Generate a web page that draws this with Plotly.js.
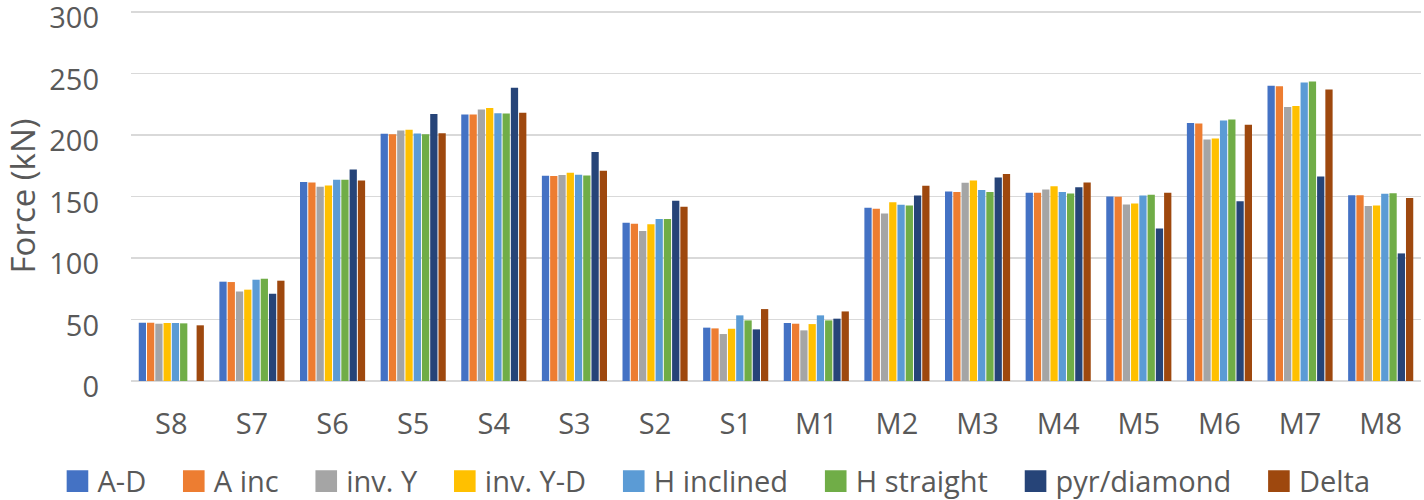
<!DOCTYPE html>
<html><head><meta charset="utf-8">
<script src="https://cdn.plot.ly/plotly-3.0.1.min.js"></script>
<style>html,body{margin:0;padding:0;background:#fff;}#chart{width:1424px;height:500px;}</style>
</head><body><div id="chart"></div>
<script>
const categories = ["S8","S7","S6","S5","S4","S3","S2","S1","M1","M2","M3","M4","M5","M6","M7","M8"];
const seriesNames = ["A-D","A inc","inv. Y","inv. Y-D","H inclined","H straight","pyr/diamond","Delta"];
const colors = ["#4472C4","#ED7D31","#A5A5A5","#FFC000","#5B9BD5","#70AD47","#264478","#9E480E"];
const aD        = [47.4,80.8,161.8,201.1,216.8,166.9,128.7,43.4,47.2,140.9,154.2,153.1,150.1,209.8,240.1,151.2];
const aInc      = [47.4,80.5,161.5,200.8,216.8,166.7,127.9,42.8,46.6,140.1,153.7,153.1,149.9,209.5,239.8,151.2];
const invY      = [46.6,72.9,158.0,203.8,220.9,167.5,122.0,38.2,41.2,136.3,161.2,155.8,143.6,196.5,223.0,142.3];
const invYD     = [47.2,74.3,159.1,204.3,222.0,169.4,127.6,42.5,46.3,145.5,163.1,158.5,144.4,197.3,223.8,142.8];
const hIncl     = [47.2,82.4,163.7,201.4,217.9,167.8,131.7,53.4,53.4,143.4,155.3,153.7,150.9,211.9,242.8,152.3];
const hStraight = [46.9,83.2,163.7,200.8,217.6,167.2,131.7,49.3,49.3,142.8,153.7,152.6,151.5,212.7,243.6,152.8];
const pyrDiam   = [null,71.0,172.1,217.3,238.5,186.2,146.6,42.0,50.7,151.0,165.6,157.7,124.1,146.3,166.4,103.8];
const delta     = [45.3,81.6,163.1,201.6,218.2,171.0,141.7,58.5,56.6,158.8,168.3,161.5,153.1,208.4,237.1,148.8];
const seriesValues = [aD,aInc,invY,invYD,hIncl,hStraight,pyrDiam,delta];

const FONT = "'Open Sans', 'DejaVu Sans', sans-serif";
const PAD = "\u00A0\u00A0\u00A0";
const traces = seriesValues.map((v,i)=>({
  type:'bar', name:seriesNames[i] + (i < seriesNames.length-1 ? PAD : ''), x:categories, y:v,
  marker:{color:colors[i], line:{width:0}}, hoverinfo:'skip'
}));
const layout = {
  width:1424, height:500,
  margin:{l:131, r:3, t:11, b:119, autoexpand:false},
  paper_bgcolor:'#fff', plot_bgcolor:'#fff',
  barmode:'group', bargap:0.18, bargroupgap:0.12,
  font:{family:FONT, color:'#595959', size:29},
  xaxis:{type:'category', showgrid:false, showline:false, zeroline:false, ticks:'',
         tickfont:{size:29, color:'#595959'}, ticklabelstandoff:23},
  yaxis:{range:[0,301], tickvals:[0,50,100,150,200,250,300], showgrid:true, gridcolor:'#D9D9D9', gridwidth:1.5,
         zeroline:true, zerolinecolor:'#D9D9D9', zerolinewidth:1.5, showline:false, ticks:'',
         tickfont:{size:29, color:'#595959'}, ticklabelstandoff:31, ticklabelshift:6,
         ticklabeloverflow:'allow',
         title:{text:'Force (kN)', font:{size:33, color:'#595959'}, standoff:4}},
  showlegend:true,
  legend:{orientation:'h', x:-0.057, xanchor:'left', y:-0.271, yanchor:'middle',
          font:{size:29, color:'#595959'}, traceorder:'normal', tracegroupgap:0,
          bgcolor:'rgba(0,0,0,0)'}
};
Plotly.newPlot('chart', traces, layout, {displayModeBar:false, staticPlot:true}).then(gd=>{
  gd.querySelectorAll('.legend .legendpoints path').forEach(p=>{
    const t = p.getAttribute('transform') || '';
    p.setAttribute('transform', t + ' scale(1.8)');
  });
});
</script></body></html>
